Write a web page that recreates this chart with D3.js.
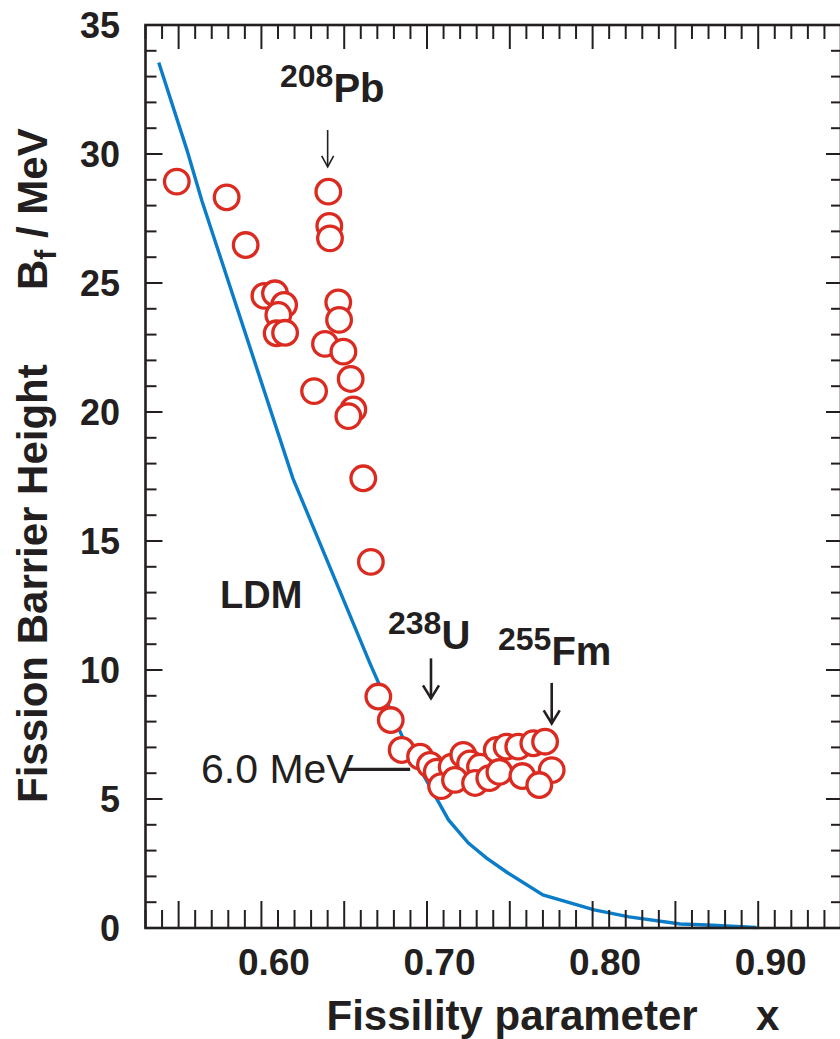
<!DOCTYPE html>
<html>
<head>
<meta charset="utf-8">
<script src="https://cdn.jsdelivr.net/npm/d3@7"></script>
<style>
  body { margin: 0; background: #fff; }
  text { font-family: "Liberation Sans", Arial, sans-serif; fill: #231f20; }
</style>
</head>
<body>
<div id="chart"></div>
<script>
// --- Daten: Spaltbarrieren (offene Kreise) ---
const bfX = [0.5489, 0.579, 0.5905, 0.6018, 0.6082, 0.6137, 0.6102, 0.6092, 0.6143,
  0.6404, 0.641, 0.6414, 0.6464, 0.6469, 0.6384, 0.6495, 0.6539, 0.6555, 0.6525, 0.6318,
  0.6615, 0.6661,
  0.6706, 0.6781, 0.6847, 0.6958, 0.7018, 0.7059, 0.7149, 0.7219, 0.7260, 0.7320,
  0.7421, 0.7481, 0.7551, 0.7642, 0.7713, 0.7753,
  0.7085, 0.7169, 0.7290, 0.7376, 0.7437, 0.7576, 0.7678];
const bfY = [28.93, 28.32, 26.47, 24.50, 24.60, 24.15, 23.76, 23.05, 23.07,
  28.54, 27.21, 26.73, 24.25, 23.57, 22.64, 22.34, 21.28, 20.10, 19.84, 20.81,
  17.43, 14.19,
  8.97, 8.06, 6.90, 6.64, 6.32, 6.06, 6.25, 6.71, 6.38, 6.25,
  6.90, 7.03, 7.03, 7.16, 7.22, 6.12,
  5.50, 5.74, 5.62, 5.81, 6.05, 5.89, 5.54];

// --- Daten: LDM-Kurve ---
const ldmX = [0.538, 0.555, 0.564, 0.619, 0.666, 0.686, 0.713, 0.725, 0.736, 0.748,
  0.770, 0.801, 0.822, 0.853, 0.869, 0.899];
const ldmY = [33.55, 30.16, 28.2, 17.43, 10.19, 7.29, 4.19, 3.29, 2.71, 2.17,
  1.28, 0.70, 0.43, 0.155, 0.116, 0.02];

// --- Achsen ---
const xTickLabels = [0.60, 0.70, 0.80, 0.90];
const yTickLabels = [0, 5, 10, 15, 20, 25, 30, 35];

// --- Annotationen: Kern, Pfeil-x, Pfeil oben, Pfeilspitze ---
const nuclei = ["208", "238", "255"];
const nucleiSym = ["Pb", "U", "Fm"];
const arrowX = [0.640, 0.7024, 0.7753];
const arrowTop = [30.93, 10.45, 9.50];
const arrowTip = [29.5, 8.90, 7.93];

// 6.0 MeV Marke
const levelLabel = "6.0 MeV";
const levelValue = 6.15;
const levelFrom = 0.6505, levelTo = 0.6898;

const W = 840, H = 1039;
const svg = d3.select("#chart").append("svg")
  .attr("width", W).attr("height", H);

const x = d3.scaleLinear().domain([0.53, 0.95]).range([145.5, 841]);
const y = d3.scaleLinear().domain([0, 35]).range([928, 25]);

const ink = "#231f20";

// LDM-Linie (unter den Kreisen)
const line = d3.line().x(d => x(d[0])).y(d => y(d[1]));
svg.append("path")
  .datum(ldmX.map((v, i) => [v, ldmY[i]]))
  .attr("fill", "none")
  .attr("stroke", "#0b7dc8")
  .attr("stroke-width", 3.4)
  .attr("d", line);

// Ticks: x alle 0.01, y alle 1
const xt = d3.range(53, 96).map(i => ({ v: i / 100, major: i % 5 === 0 }));
const yt = d3.range(0, 36).map(i => ({ v: i, major: i % 5 === 0 }));

const ticks = svg.append("g").attr("stroke", ink).attr("stroke-width", 2);
// unten
ticks.selectAll(".tb").data(xt).enter().append("line")
  .attr("x1", d => x(d.v)).attr("x2", d => x(d.v))
  .attr("y1", y(0)).attr("y2", d => y(0) - (d.major ? 27 : 18));
// oben
ticks.selectAll(".tt").data(xt).enter().append("line")
  .attr("x1", d => x(d.v)).attr("x2", d => x(d.v))
  .attr("y1", y(35)).attr("y2", d => y(35) + (d.major ? 24 : 14));
// links
ticks.selectAll(".tl").data(yt).enter().append("line")
  .attr("y1", d => y(d.v)).attr("y2", d => y(d.v))
  .attr("x1", x(0.53)).attr("x2", d => x(0.53) + (d.major ? 17 : 11));
// rechts
ticks.selectAll(".tr").data(yt).enter().append("line")
  .attr("y1", d => y(d.v)).attr("y2", d => y(d.v))
  .attr("x1", x(0.95)).attr("x2", d => x(0.95) - (d.major ? 15 : 10));

// Rahmen
svg.append("rect")
  .attr("x", x(0.53)).attr("y", y(35))
  .attr("width", x(0.95) - x(0.53)).attr("height", y(0) - y(35))
  .attr("fill", "none").attr("stroke", ink).attr("stroke-width", 2.6);

// Tick-Beschriftungen
svg.selectAll(".xl").data(xTickLabels).enter().append("text")
  .attr("x", d => x(d) + 12.5).attr("y", 975)
  .attr("text-anchor", "middle")
  .style("font-size", "37px").style("font-weight", "bold")
  .text(d => d.toFixed(2));

svg.selectAll(".yl").data(yTickLabels).enter().append("text")
  .attr("x", 120).attr("y", d => y(d)).attr("dy", "0.36em")
  .attr("text-anchor", "end")
  .style("font-size", "36px").style("font-weight", "bold")
  .text(d => d);

// Achsentitel
svg.append("text")
  .attr("x", 326.5).attr("y", 1030)
  .style("font-size", "42px").style("font-weight", "bold")
  .text("Fissility parameter");
svg.append("text")
  .attr("x", 756).attr("y", 1030)
  .style("font-size", "42px").style("font-weight", "bold")
  .text("x");

svg.append("text")
  .attr("transform", "translate(47,803) rotate(-90)")
  .style("font-size", "42px").style("font-weight", "bold")
  .text("Fission Barrier Height");
const bt = svg.append("text")
  .attr("transform", "translate(47,290) rotate(-90)")
  .style("font-size", "42px").style("font-weight", "bold");
bt.append("tspan").text("B");
bt.append("tspan").attr("dy", 9).style("font-size", "30px").text("f");
bt.append("tspan").attr("dy", -9).text(" / MeV");

// LDM-Beschriftung
svg.append("text")
  .attr("x", 220).attr("y", 608)
  .style("font-size", "38px").style("font-weight", "bold")
  .text("LDM");

// 6.0 MeV
svg.append("line")
  .attr("x1", x(levelFrom)).attr("x2", x(levelTo))
  .attr("y1", y(levelValue)).attr("y2", y(levelValue))
  .attr("stroke", ink).attr("stroke-width", 3.2);
svg.append("text")
  .attr("x", 201).attr("y", 783)
  .style("font-size", "41px")
  .text(levelLabel);

// Pfeile
const arrows = svg.append("g").attr("fill", "none").attr("stroke", ink);
nuclei.forEach((n, i) => {
  const ax = x(arrowX[i]), y0 = y(arrowTop[i]), y1 = y(arrowTip[i]);
  const hw = i === 0 ? 6 : 8, hh = i === 0 ? 11 : 13;
  const sw = i === 0 ? 1.6 : 2.6;
  arrows.append("line").attr("x1", ax).attr("x2", ax).attr("y1", y0).attr("y2", y1)
    .attr("stroke-width", sw);
  arrows.append("path")
    .attr("d", `M${ax - hw},${y1 - hh}L${ax},${y1}L${ax + hw},${y1 - hh}`)
    .attr("stroke-width", sw);
});

// Kern-Beschriftungen
const labelPos = [[280, 101.7], [388, 649.3], [498, 665]];
nuclei.forEach((n, i) => {
  const t = svg.append("text")
    .attr("x", labelPos[i][0]).attr("y", labelPos[i][1])
    .style("font-weight", "bold");
  t.append("tspan").attr("dy", -15).style("font-size", "32px").text(n);
  t.append("tspan").attr("dy", 15).style("font-size", "40px").text(nucleiSym[i]);
});

// Datenpunkte (offene Kreise)
svg.append("g").selectAll("circle")
  .data(bfX.map((v, i) => [v, bfY[i]]))
  .enter().append("circle")
  .attr("cx", d => x(d[0]))
  .attr("cy", d => y(d[1]))
  .attr("r", 12.3)
  .attr("fill", "#fff")
  .attr("stroke", "#db2a1f")
  .attr("stroke-width", 3.3);
</script>
</body>
</html>
